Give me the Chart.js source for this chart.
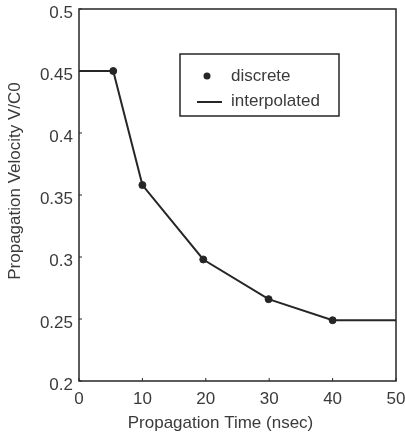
<!DOCTYPE html>
<html>
<head>
<meta charset="utf-8">
<script src="https://cdn.jsdelivr.net/npm/chart.js@4/dist/chart.umd.min.js"></script>
<style>
  html, body { margin: 0; padding: 0; background: #fff; }
  #wrap { width: 405px; height: 440px; }
</style>
</head>
<body>
<div id="wrap"><canvas id="c" width="405" height="440"></canvas></div>
<script>
// discrete samples
const discreteTime = [5.4, 10.0, 19.6, 29.9, 40.0];
const discreteVel = [0.45, 0.358, 0.298, 0.266, 0.249];

// interpolated curve (flat ends out to the axis limits)
const interpTime = [0, 5.4, 10.0, 19.6, 29.9, 40.0, 50];
const interpVel = [0.45, 0.45, 0.358, 0.298, 0.266, 0.249, 0.249];

const xTicks = [0, 10, 20, 30, 40, 50];
const yTicks = [0.2, 0.25, 0.3, 0.35, 0.4, 0.45, 0.5];

const xTitle = 'Propagation Time (nsec)';
const yTitle = 'Propagation Velocity V/C0';

const ink = '#262626';
const textCol = '#3a3a3a';
const fontFamily = '"Liberation Sans", Arial, sans-serif';
const font = { family: fontFamily, size: 17 };

// frame, inward tick marks, axis titles
const framePlugin = {
  id: 'frame',
  afterDatasetsDraw(chart) {
    const { ctx, chartArea: a, scales } = chart;
    ctx.save();
    ctx.strokeStyle = ink;
    ctx.lineWidth = 1.5;
    ctx.strokeRect(a.left, a.top, a.right - a.left, a.bottom - a.top);
    ctx.lineWidth = 1;
    xTicks.forEach(v => {
      const px = scales.x.getPixelForValue(v);
      ctx.beginPath(); ctx.moveTo(px, a.bottom); ctx.lineTo(px, a.bottom - 3); ctx.stroke();
    });
    yTicks.forEach(v => {
      const py = scales.y.getPixelForValue(v);
      ctx.beginPath(); ctx.moveTo(a.left, py); ctx.lineTo(a.left + 3, py); ctx.stroke();
    });

    // titles sit a little off-centre in the original
    ctx.fillStyle = textCol;
    ctx.font = '17px ' + fontFamily;
    ctx.textAlign = 'center';
    ctx.textBaseline = 'middle';
    ctx.fillText(xTitle, 220.5, 423);
    ctx.translate(15, 181);
    ctx.rotate(-Math.PI / 2);
    ctx.fillText(yTitle, 0, 0);
    ctx.restore();
  }
};

// legend box inside the plot
const legendPlugin = {
  id: 'boxLegend',
  afterDraw(chart) {
    const ctx = chart.ctx;
    ctx.save();
    ctx.strokeStyle = ink;
    ctx.lineWidth = 1.5;
    ctx.fillStyle = '#fff';
    ctx.fillRect(180, 54, 159, 62);
    ctx.strokeRect(180, 54, 159, 62);
    ctx.fillStyle = ink;
    ctx.beginPath(); ctx.arc(207, 76, 3.5, 0, Math.PI * 2); ctx.fill();
    ctx.lineWidth = 2;
    ctx.beginPath(); ctx.moveTo(197, 102); ctx.lineTo(222, 102); ctx.stroke();
    ctx.fillStyle = textCol;
    ctx.font = '17px ' + fontFamily;
    ctx.textBaseline = 'middle';
    ctx.fillText('discrete', 231, 76);
    ctx.fillText('interpolated', 231, 101);
    ctx.restore();
  }
};

new Chart(document.getElementById('c'), {
  type: 'scatter',
  data: {
    datasets: [
      {
        label: 'interpolated',
        data: interpTime.map((t, i) => ({ x: t, y: interpVel[i] })),
        showLine: true,
        borderColor: ink,
        borderWidth: 2,
        pointRadius: 0,
        tension: 0
      },
      {
        label: 'discrete',
        data: discreteTime.map((t, i) => ({ x: t, y: discreteVel[i] })),
        showLine: false,
        backgroundColor: ink,
        borderColor: ink,
        pointRadius: 3.5
      }
    ]
  },
  options: {
    responsive: false,
    animation: false,
    layout: { padding: { left: 0, right: 9, top: 9, bottom: 0 } },
    plugins: { legend: { display: false }, tooltip: { enabled: false } },
    scales: {
      x: {
        type: 'linear',
        min: 0, max: 50,
        afterBuildTicks(scale) { scale.ticks = xTicks.map(v => ({ value: v })); },
        afterFit(scale) { scale.height = 59; scale.paddingLeft = 0; scale.paddingRight = 0; },
        grid: { display: false, drawTicks: false },
        border: { display: false },
        ticks: { color: textCol, font, padding: 8, maxRotation: 0 },
        title: { display: false }
      },
      y: {
        min: 0.2, max: 0.5,
        afterBuildTicks(scale) { scale.ticks = yTicks.map(v => ({ value: v })); },
        afterFit(scale) { scale.width = 79; scale.paddingTop = 0; scale.paddingBottom = 0; },
        grid: { display: false, drawTicks: false },
        border: { display: false },
        ticks: { color: textCol, font, padding: 6, labelOffset: 4, callback: v => String(+v.toFixed(2)) },
        title: { display: false }
      }
    }
  },
  plugins: [framePlugin, legendPlugin]
});
</script>
</body>
</html>
